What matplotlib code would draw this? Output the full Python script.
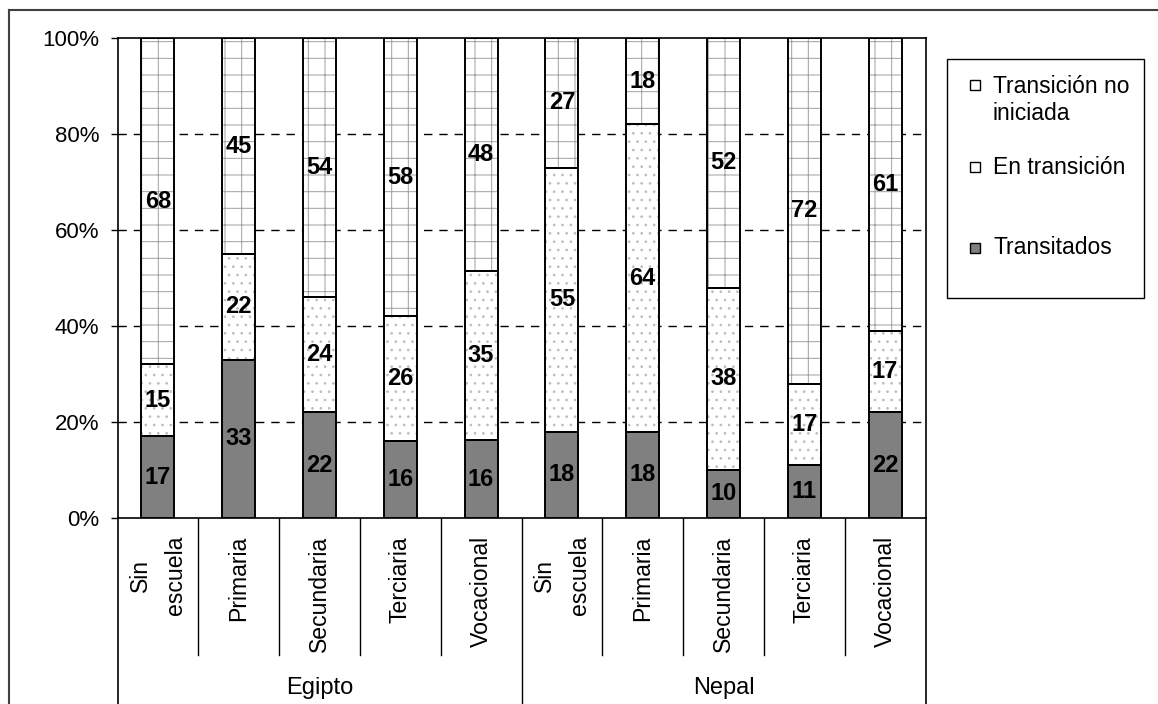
import numpy as np
import matplotlib
matplotlib.use('Agg')
import matplotlib.pyplot as plt
from matplotlib.lines import Line2D
from matplotlib.patches import Rectangle
import matplotlib.transforms as mtransforms

plt.rcParams['font.family'] = ['Liberation Sans', 'DejaVu Sans']
plt.rcParams['hatch.linewidth'] = 0.7

#==============================================================================
# Data
#==============================================================================
paises = ['Egipto', 'Nepal']
categorias = ['Sin\nescuela', 'Primaria', 'Secundaria', 'Terciaria', 'Vocacional']
series = ['Transitados', 'En transición', 'Transición no\niniciada']

transitados = [17, 33, 22, 16, 16, 18, 18, 10, 11, 22]
en_transicion = [15, 22, 24, 26, 35, 55, 64, 38, 17, 17]
no_iniciada = [68, 45, 54, 58, 48, 27, 18, 52, 72, 61]

#==============================================================================
# Prepare
#==============================================================================
vals = np.array([transitados, en_transicion, no_iniciada], dtype=float)
pct = vals / vals.sum(axis=0) * 100
bottoms = np.vstack([np.zeros(pct.shape[1]), np.cumsum(pct, axis=0)[:-1]])
labels = categorias * len(paises)
x = np.arange(len(labels))
W, H = 1158, 704

def fx(px):
    return px / W

def fy(py):
    return 1 - py / H

fig = plt.figure(figsize=(W / 100, H / 100), dpi=100)
ax = fig.add_axes([fx(117.5), fy(518), (925.5 - 117.5) / W, 480 / H])

bw = 0.41
faces = ['#808080', 'white', 'white']
hatches = [None, '..', '+']
hcols = [None, '#bdbdbd', '#a0a0a0']
for i in range(3):
    if hatches[i]:
        ax.bar(x, pct[i], bottom=bottoms[i], width=bw, facecolor=faces[i],
               edgecolor=hcols[i], hatch=hatches[i], linewidth=0, zorder=2)
        ax.bar(x, pct[i], bottom=bottoms[i], width=bw, fill=False,
               edgecolor='black', linewidth=1.4, zorder=3)
    else:
        ax.bar(x, pct[i], bottom=bottoms[i], width=bw, facecolor=faces[i],
               edgecolor='black', linewidth=1.4, zorder=3)
    for xi, b, p, v in zip(x, bottoms[i], pct[i], vals[i]):
        ax.text(xi, b + p / 2, '%d' % v, ha='center', va='center',
                fontsize=17, fontweight='bold', zorder=5)

ax.set_xlim(-0.5, len(labels) - 0.5)
ax.set_ylim(0, 100)
ax.set_yticks(np.arange(0, 101, 20))
ax.set_yticklabels(['%d%%' % t for t in range(0, 101, 20)])
ax.set_xticks([])
ax.tick_params(axis='y', direction='out', length=5, width=1, labelsize=16, pad=8)
for s in ax.spines.values():
    s.set_linewidth(1.2)

for t in range(20, 100, 20):
    ax.axhline(t, color='black', linewidth=1, dashes=(6, 5), zorder=1)

#==============================================================================
# Category axis with groups
#==============================================================================
tr = mtransforms.blended_transform_factory(ax.transData, ax.transAxes)
y_cat = -(655 - 518) / 480
y_grp = -(706 - 518) / 480
for k in range(1, len(labels)):
    yb = y_grp if k % len(categorias) == 0 else y_cat
    ax.plot([k - 0.5, k - 0.5], [0, yb], color='black', linewidth=1,
            transform=tr, clip_on=False)
for xe in [-0.5, len(labels) - 0.5]:
    ax.plot([xe, xe], [0, y_grp], color='black', linewidth=1.2,
            transform=tr, clip_on=False)

for xi, lab in zip(x, labels):
    ax.text(xi, -(536 - 518) / 480, lab, rotation=90, ha='center', va='top',
            multialignment='center', linespacing=1.7, fontsize=16.6,
            transform=tr)

n = len(categorias)
for g, pais in enumerate(paises):
    ax.text(g * n + (n - 1) / 2, -(688 - 518) / 480, pais, ha='center',
            va='center', fontsize=17, transform=tr)

#==============================================================================
# Legend
#==============================================================================
fig.add_artist(Rectangle((fx(947), fy(298)), fx(1144) - fx(947), fy(59) - fy(298),
                         transform=fig.transFigure, fill=False,
                         edgecolor='black', linewidth=1))
leg_y = [85, 167, 248]
leg_txt_y = [100, 167, 248]
order = [2, 1, 0]
for j, i in enumerate(order):
    fig.add_artist(Rectangle((fx(970), fy(leg_y[j] + 5)), fx(10), 10 / H,
                             transform=fig.transFigure, facecolor=faces[i],
                             edgecolor='black', linewidth=1))
    fig.text(fx(993), fy(leg_txt_y[j]), series[i], ha='left', va='center',
             fontsize=16.5, linespacing=1.25)

#==============================================================================
# Outer border
#==============================================================================
fig.add_artist(Line2D([fx(9), 1], [fy(10), fy(10)], color='#404040', linewidth=1.5))
fig.add_artist(Line2D([fx(9), fx(9)], [0, fy(10)], color='#404040', linewidth=1.5))

fig.savefig('out.png', dpi=100)
